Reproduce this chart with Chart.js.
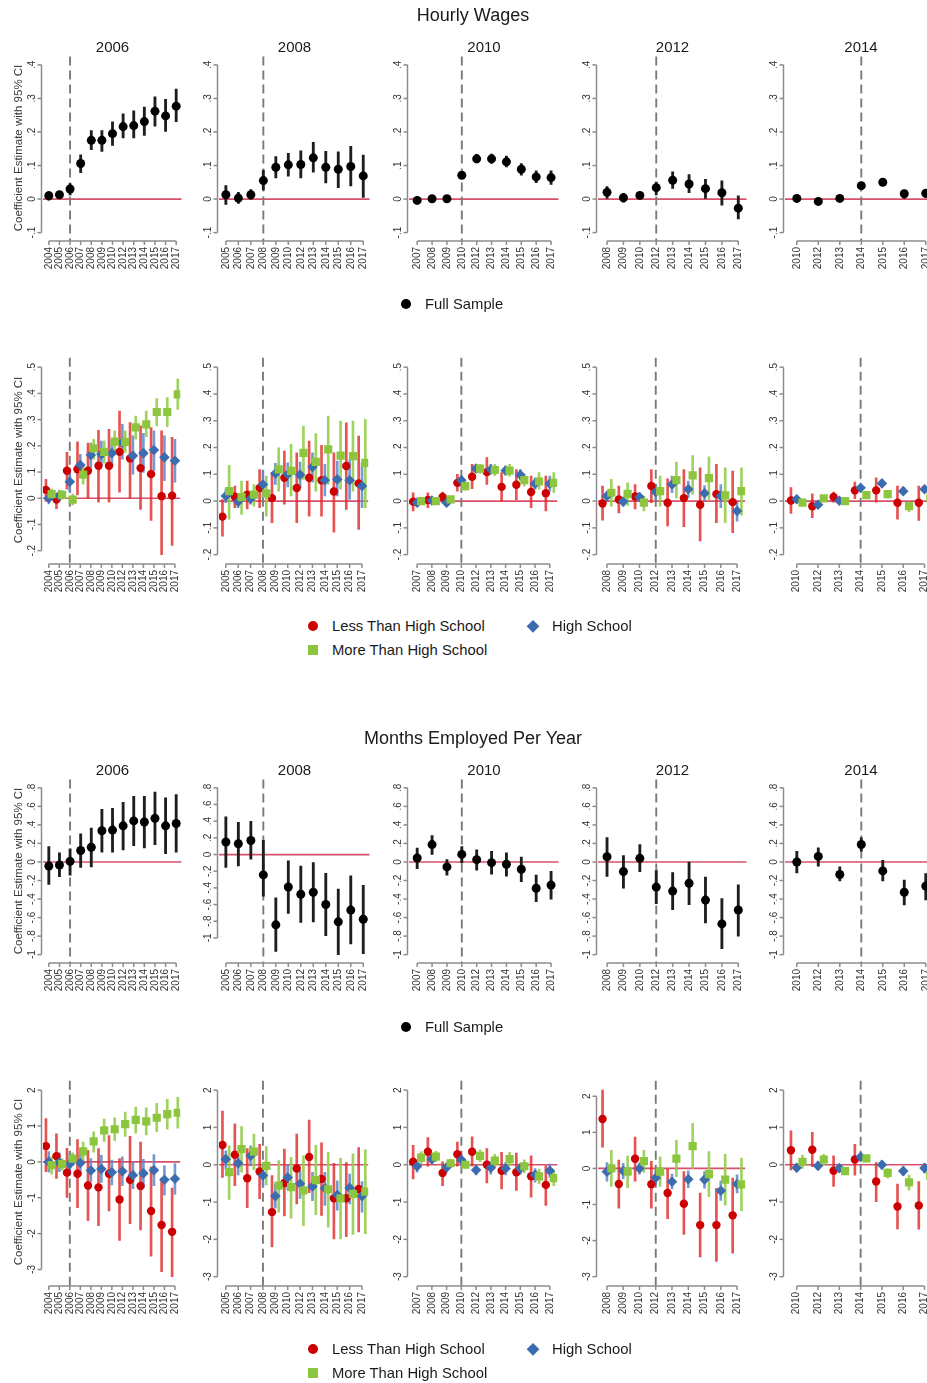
<!DOCTYPE html>
<html lang="en">
<head>
<meta charset="UTF-8">
<title>Hourly Wages / Months Employed Per Year</title>
<script src="https://cdn.jsdelivr.net/npm/chart.js"></script>
<style>
  body { margin:0; background:#fff; width:927px; height:1383px; overflow:hidden; position:relative;
         font-family:"Liberation Sans", Arial, Helvetica, sans-serif; color:#1a1a1a; }
  canvas.panel { position:absolute; }
  .txt { position:absolute; white-space:nowrap; transform:translate(-50%,-50%); }
  .sect { font-size:18px; }
  .ptitle { font-size:15px; }
  .ytitle { font-size:11.5px; color:#3a3a3a; transform:translate(-50%,-50%) rotate(-90deg); }
  .leg { position:absolute; font-size:14.8px; white-space:nowrap; transform:translateY(-50%); }
  .mk { position:absolute; transform:translate(-50%,-50%); }
</style>
</head>
<body>
<script>
// x categories for each cohort panel
const yrs06 = ['2004','2005','2006','2007','2008','2009','2010','2012','2013','2014','2015','2016','2017'];
const yrs08 = ['2005','2006','2007','2008','2009','2010','2012','2013','2014','2015','2016','2017'];
const yrs10 = ['2007','2008','2009','2010','2012','2013','2014','2015','2016','2017'];
const yrs12 = ['2008','2009','2010','2012','2013','2014','2015','2016','2017'];
const yrs14 = ['2010','2012','2013','2014','2015','2016','2017'];
const cohorts = ['2006','2008','2010','2012','2014'];

// y ticks
const hwTopTicks = [-0.1, 0, 0.1, 0.2, 0.3, 0.4];
const hwTopTickLabels = ['-.1','0','.1','.2','.3','.4'];
const hwSubTicks = [-0.2, -0.1, 0, 0.1, 0.2, 0.3, 0.4, 0.5];
const hwSubTickLabels = ['-.2','-.1','0','.1','.2','.3','.4','.5'];
const meTopTicks = [-1, -0.8, -0.6, -0.4, -0.2, 0, 0.2, 0.4, 0.6, 0.8];
const meTopTickLabels = ['-1','-.8','-.6','-.4','-.2','0','.2','.4','.6','.8'];
const meSubTicks = [-3, -2, -1, 0, 1, 2];
const meSubTickLabels = ['-3','-2','-1','0','1','2'];

// values as [estimate, ci low, ci high]
// Hourly wages, full sample
const hwFull06 = [[.010,-.003,.022],[.013,.007,.020],[.030,.012,.046],[.106,.079,.132],[.175,.147,.204],[.175,.142,.204],[.195,.160,.230],[.216,.182,.254],[.219,.182,.263],[.231,.190,.274],[.262,.217,.305],[.248,.202,.297],[.277,.231,.328]];
const hwFull08 = [[.013,-.016,.040],[.003,-.013,.020],[.013,-.001,.028],[.055,.027,.086],[.095,.063,.127],[.102,.068,.136],[.103,.063,.144],[.123,.080,.169],[.095,.048,.142],[.089,.034,.141],[.097,.039,.157],[.069,.005,.131]];
const hwFull10 = [[-.004,-.010,.002],[.001,-.004,.006],[.001,-.004,.006],[.071,.063,.080],[.120,.108,.133],[.120,.106,.134],[.111,.096,.128],[.089,.071,.106],[.066,.049,.084],[.064,.044,.084]];
const hwFull12 = [[.020,.002,.037],[.004,-.009,.017],[.011,.002,.019],[.034,.012,.051],[.056,.032,.081],[.045,.019,.073],[.031,.002,.059],[.019,-.018,.054],[-.027,-.059,.010]];
const hwFull14 = [[.002,-.004,.008],[-.007,-.012,-.002],[.002,-.004,.008],[.040,.032,.048],[.050,.043,.058],[.016,.002,.027],[.017,.005,.028]];

// Hourly wages by education
const hwLess06 = [[.032,-.012,.072],[-.005,-.040,.020],[.105,.035,.175],[.111,.013,.215],[.105,.000,.210],[.124,-.015,.259],[.124,-.015,.263],[.177,.023,.333],[.152,.000,.289],[.115,-.043,.276],[.092,-.085,.270],[.008,-.215,.257],[.010,-.180,.232]];
const hwHs06 = [[.000,-.022,.022],[.010,-.009,.029],[.063,.023,.101],[.127,.084,.168],[.165,.118,.210],[.168,.124,.218],[.172,.124,.219],[.213,.149,.282],[.162,.092,.238],[.172,.099,.248],[.184,.105,.257],[.156,.067,.238],[.143,.061,.225]];
const hwMore06 = [[.016,-.005,.035],[.013,-.003,.029],[-.005,-.025,.016],[.090,.054,.124],[.190,.149,.225],[.177,.134,.219],[.216,.175,.257],[.215,.175,.257],[.270,.225,.313],[.282,.235,.333],[.329,.276,.380],[.329,.273,.384],[.396,.339,.456]];
const hwLess08 = [[-.058,-.131,.006],[.016,-.025,.056],[.024,-.029,.075],[.049,-.025,.118],[.011,-.081,.106],[.087,-.012,.187],[.049,-.081,.180],[.087,-.056,.224],[.078,-.056,.208],[.036,-.116,.180],[.131,-.031,.292],[.066,-.106,.243]];
const hwHs08 = [[.019,-.006,.044],[-.002,-.025,.019],[.009,-.012,.031],[.062,.012,.112],[.103,.062,.141],[.100,.053,.143],[.098,.050,.146],[.127,.071,.180],[.078,.019,.137],[.081,.019,.149],[.078,.006,.153],[.056,-.025,.143]];
const hwMore08 = [[.037,-.068,.133],[.015,-.050,.075],[.024,-.019,.062],[.029,-.056,.093],[.118,.037,.199],[.113,.019,.212],[.180,.081,.280],[.146,.037,.252],[.193,.062,.317],[.170,.044,.299],[.168,.037,.299],[.143,-.025,.305]];
const hwLess10 = [[-.002,-.037,.031],[.004,-.025,.031],[.015,-.006,.034],[.068,.037,.100],[.091,.046,.137],[.108,.062,.162],[.053,.000,.106],[.061,.004,.118],[.034,-.025,.093],[.029,-.037,.093]];
const hwHs10 = [[-.006,-.019,.006],[.002,-.006,.012],[-.006,-.021,.009],[.078,.062,.093],[.121,.106,.137],[.118,.100,.137],[.114,.097,.131],[.098,.078,.118],[.065,.044,.087],[.065,.037,.093]];
const hwMore10 = [[.000,-.012,.012],[.000,-.009,.009],[.006,-.006,.016],[.056,.041,.071],[.121,.103,.137],[.116,.095,.137],[.114,.093,.137],[.078,.056,.100],[.073,.044,.106],[.068,.031,.106]];
const hwLess12 = [[-.009,-.071,.056],[.006,-.044,.056],[.017,-.029,.062],[.056,-.006,.118],[-.006,-.093,.083],[.011,-.096,.118],[-.014,-.149,.124],[.026,-.081,.137],[-.004,-.118,.112]];
const hwHs12 = [[.019,.000,.037],[-.002,-.019,.012],[.015,.000,.031],[.034,.006,.062],[.062,.031,.093],[.044,.012,.075],[.029,.000,.058],[.019,-.025,.062],[-.037,-.075,.000]];
const hwMore12 = [[.031,-.019,.081],[.027,-.016,.068],[-.006,-.037,.019],[.037,-.019,.093],[.078,.012,.146],[.096,.025,.170],[.086,.006,.165],[.021,-.081,.124],[.037,-.053,.124]];
const hwLess14 = [[.002,-.046,.050],[-.019,-.062,.027],[.015,-.004,.034],[.040,.009,.071],[.040,-.004,.087],[-.006,-.068,.056],[-.006,-.072,.056]];
const hwHs14 = [[.007,-.003,.017],[-.014,-.024,-.004],[.001,-.008,.010],[.050,.040,.060],[.066,.056,.076],[.037,.026,.049],[.044,.032,.056]];
const hwMore14 = [[-.006,-.019,.006],[.010,-.001,.020],[.000,-.006,.006],[.022,.014,.030],[.026,.012,.040],[-.019,-.040,-.004],[.010,-.005,.025]];

// Months employed, full sample
const meFull06 = [[-.043,-.241,.167],[-.032,-.159,.100],[.007,-.142,.142],[.124,-.060,.305],[.159,-.053,.365],[.337,.106,.567],[.344,.106,.578],[.390,.131,.645],[.443,.177,.709],[.432,.152,.709],[.471,.188,.755],[.390,.089,.691],[.415,.106,.726]];
const meFull08 = [[.150,-.154,.453],[.130,-.138,.386],[.169,-.055,.398],[-.244,-.500,.169],[-.843,-1.162,-.520],[-.390,-.705,-.075],[-.477,-.815,-.138],[-.453,-.807,-.098],[-.599,-.973,-.224],[-.807,-1.201,-.413],[-.666,-1.071,-.256],[-.776,-1.189,-.370]];
const meFull10 = [[.043,-.071,.149],[.188,.082,.284],[-.053,-.142,.025],[.082,-.011,.167],[.025,-.089,.132],[-.007,-.132,.114],[-.025,-.153,.100],[-.078,-.213,.053],[-.284,-.427,-.142],[-.249,-.402,-.100]];
const meFull12 = [[.057,-.157,.264],[-.104,-.282,.068],[.039,-.104,.189],[-.271,-.450,-.093],[-.314,-.514,-.114],[-.229,-.461,.000],[-.411,-.657,-.164],[-.668,-.936,-.396],[-.518,-.800,-.246]];
const meFull14 = [[.000,-.117,.114],[.060,-.046,.153],[-.135,-.203,-.053],[.189,.117,.260],[-.096,-.203,.018],[-.327,-.463,-.196],[-.260,-.409,-.125]];

// Months employed by education
const meLess06 = [[.44,-.27,1.21],[.16,-.46,.78],[-.30,-.99,.38],[-.33,-1.28,.62],[-.66,-1.64,.32],[-.71,-1.78,.37],[-.33,-1.37,.73],[-1.05,-2.19,.09],[-.50,-1.72,.71],[-.67,-1.90,.55],[-1.37,-2.63,-.14],[-1.76,-3.06,-.46],[-1.95,-3.20,-.73]];
const meHs06 = [[.00,-.29,.29],[-.02,-.27,.25],[-.06,-.37,.23],[-.03,-.37,.32],[-.24,-.55,.09],[-.20,-.57,.18],[-.29,-.64,.05],[-.26,-.66,.14],[-.37,-.75,.00],[-.32,-.71,.07],[-.23,-.66,.20],[-.50,-.93,-.11],[-.47,-.91,-.05]];
const meMore06 = [[-.09,-.34,.14],[-.06,-.23,.09],[.09,-.07,.25],[.29,.02,.55],[.57,.27,.84],[.88,.57,1.19],[.91,.59,1.23],[1.05,.71,1.39],[1.17,.80,1.53],[1.13,.75,1.51],[1.23,.84,1.63],[1.33,.91,1.74],[1.37,.94,1.80]];
const meLess08 = [[.53,-.34,1.44],[.27,-.56,1.10],[-.36,-1.15,.43],[-.18,-.91,.55],[-1.27,-2.20,-.29],[-.49,-1.37,.42],[-.10,-1.05,.82],[.21,-.75,1.20],[-.38,-1.36,.59],[-.90,-1.99,.04],[-.90,-1.93,.06],[-.65,-1.80,.46]];
const meHs08 = [[.15,-.12,.37],[.04,-.27,.28],[.24,-.03,.51],[-.29,-.60,.02],[-.84,-1.16,-.51],[-.34,-.66,-.01],[-.51,-.90,-.16],[-.58,-.96,-.20],[-.63,-1.09,-.20],[-.81,-1.22,-.43],[-.62,-1.05,-.25],[-.84,-1.27,-.45]];
const meMore08 = [[-.20,-.93,.51],[.42,-.20,1.02],[.35,-.13,.82],[-.03,-.54,.49],[-.56,-1.27,.11],[-.60,-1.43,.20],[-.69,-1.63,.24],[-.41,-1.34,.52],[-.66,-1.67,.33],[-.90,-1.99,.17],[-.78,-1.87,.29],[-.72,-1.85,.40]];
const meLess10 = [[.08,-.38,.52],[.35,-.04,.73],[-.22,-.56,.08],[.28,-.04,.61],[.35,-.04,.75],[.00,-.49,.43],[-.16,-.65,.33],[-.20,-.69,.31],[-.31,-.87,.24],[-.54,-1.09,-.03]];
const meHs10 = [[-.04,-.20,.08],[.15,.02,.28],[-.07,-.20,.04],[.13,-.01,.26],[-.14,-.27,-.01],[-.08,-.25,.08],[-.10,-.27,.06],[-.10,-.26,.04],[-.27,-.47,-.10],[-.16,-.34,.02]];
const meMore10 = [[.19,.02,.35],[.22,.08,.36],[.04,-.07,.15],[.00,-.09,.08],[.24,.08,.40],[.11,-.07,.28],[.15,-.03,.33],[-.04,-.22,.13],[-.31,-.51,-.12],[-.36,-.56,-.16]];
const meLess12 = [[1.37,.59,2.17],[-.43,-1.10,.23],[.27,-.35,.87],[-.44,-1.10,.20],[-.68,-1.39,-.02],[-.98,-1.83,-.09],[-1.57,-2.45,-.68],[-1.57,-2.58,-.55],[-1.30,-2.35,-.27]];
const meHs12 = [[-.09,-.35,.16],[-.07,-.29,.14],[.00,-.16,.16],[-.26,-.46,-.05],[-.37,-.57,-.16],[-.30,-.53,-.07],[-.31,-.55,-.09],[-.62,-.89,-.35],[-.43,-.68,-.18]];
const meMore12 = [[.00,-.50,.50],[-.09,-.53,.34],[.20,-.11,.50],[-.09,-.50,.32],[.27,-.23,.78],[.62,.00,1.25],[-.16,-.78,.47],[-.31,-1.02,.39],[-.44,-1.17,.29]];
const meLess14 = [[.39,-.14,.91],[.40,-.05,.87],[-.16,-.58,.24],[.14,-.28,.55],[-.45,-.99,.06],[-1.12,-1.72,-.52],[-1.09,-1.73,-.45]];
const meHs14 = [[-.08,-.19,.02],[-.03,-.13,.08],[-.09,-.18,-.01],[.21,.11,.31],[.00,-.12,.11],[-.17,-.29,-.05],[-.09,-.22,.04]];
const meMore14 = [[.08,-.10,.26],[.14,-.01,.28],[-.17,-.25,-.10],[.17,.08,.26],[-.22,-.36,-.10],[-.47,-.68,-.28],[-.30,-.50,-.10]];

// ---- layout / styles ----
const years = [yrs06, yrs08, yrs10, yrs12, yrs14];
const cols = [[43, 182], [219, 370], [409, 559], [598, 747], [785, 937]];   // plot region left/right
const FULL = { color:'#000000', ci:'#1e1e1e', style:'circle', r:4.5, dx:0, w:2.2 };
const LESS = { color:'#cc0000', ci:'rgba(222,40,40,0.8)', style:'circle', r:4.2, dx:-0.27, w:2 };
const HS   = { color:'#3b6cb0', ci:'rgba(95,135,200,0.85)', style:'rectRot', r:5.3, dx:0, w:2 };
const MORE = { color:'#8cc63f', ci:'rgba(150,205,80,0.9)', style:'rect', r:5.8, dx:0.27, w:2 };

const stataAxes = {
  id: 'stataAxes',
  beforeDatasetsDraw(chart) {
    const { ctx, chartArea: a, scales: { x, y } } = chart;
    const o = chart.options.plugins.stataAxes;
    ctx.save();
    // zero line
    const y0 = y.getPixelForValue(0);
    ctx.strokeStyle = '#d9506a'; ctx.lineWidth = 1.7;
    ctx.beginPath(); ctx.moveTo(a.left, y0); ctx.lineTo(a.right, y0); ctx.stroke();
    // cohort year dashed line
    const xc = x.getPixelForValue(o.cohort);
    ctx.strokeStyle = '#7a7a7a'; ctx.lineWidth = 1.9; ctx.setLineDash([9, 5]);
    ctx.beginPath(); ctx.moveTo(xc, a.top); ctx.lineTo(xc, a.bottom); ctx.stroke();
    ctx.setLineDash([]);
    // y axis
    const ax = a.left - 1.5;
    const yt = o.ticks.map(t => y.getPixelForValue(t));
    ctx.strokeStyle = '#8c8c8c'; ctx.lineWidth = 1.5;
    ctx.beginPath(); ctx.moveTo(ax, Math.min(...yt)); ctx.lineTo(ax, Math.max(...yt)); ctx.stroke();
    ctx.fillStyle = '#333'; ctx.font = '10px "Liberation Sans", Arial, sans-serif';
    yt.forEach((py, i) => {
      ctx.beginPath(); ctx.moveTo(ax, py); ctx.lineTo(ax - 4, py); ctx.stroke();
      ctx.save(); ctx.translate(ax - 9, py); ctx.rotate(-Math.PI / 2);
      ctx.textAlign = 'center'; ctx.textBaseline = 'middle';
      ctx.fillText(o.tickLabels[i], 0, 0); ctx.restore();
    });
    // x axis
    const n = o.labels.length;
    const xb = a.bottom;
    ctx.beginPath(); ctx.moveTo(x.getPixelForValue(0), xb); ctx.lineTo(x.getPixelForValue(n - 1), xb); ctx.stroke();
    o.labels.forEach((lab, i) => {
      const px = x.getPixelForValue(i);
      ctx.beginPath(); ctx.moveTo(px, xb); ctx.lineTo(px, xb + 4); ctx.stroke();
      ctx.save(); ctx.translate(px, xb + 6); ctx.rotate(-Math.PI / 2);
      ctx.textAlign = 'right'; ctx.textBaseline = 'middle';
      ctx.fillText(lab, 0, 0); ctx.restore();
    });
    ctx.restore();
  }
};

function makePanel(ci, top, bottom, series, ticks, tickLabels) {
  const [l, r] = cols[ci];
  const labels = years[ci];
  const padL = 44, padR = 4, padT = 4, padB = 36;
  const cv = document.createElement('canvas');
  cv.className = 'panel';
  cv.width = r - l + padL + padR;
  cv.height = bottom - top + padT + padB;
  cv.style.left = (l - padL) + 'px';
  cv.style.top = (top - padT) + 'px';
  document.body.appendChild(cv);

  let lo = ticks[0], hi = ticks[ticks.length - 1];
  series.forEach(([, vals]) => vals.forEach(d => { lo = Math.min(lo, d[1]); hi = Math.max(hi, d[2]); }));
  const pad = 0.05 * (hi - lo);

  const ciSets = [], ptSets = [];
  series.forEach(([s, vals], k) => {
    ciSets.push({ type:'bar', data: vals.map((d, i) => ({ x: i + s.dx, y: [d[1], d[2]] })),
      backgroundColor: s.ci, borderWidth: 0, barThickness: s.w, grouped: false, order: 10 - k });
    ptSets.push({ type:'scatter', data: vals.map((d, i) => ({ x: i + s.dx, y: d[0] })),
      pointStyle: s.style, pointRadius: s.r, pointBackgroundColor: s.color, pointBorderColor: s.color,
      pointBorderWidth: 0, showLine: false, order: 5 - k });
  });

  new Chart(cv, {
    type: 'scatter',
    data: { datasets: [...ciSets, ...ptSets] },
    options: {
      responsive: false, animation: false, devicePixelRatio: 1,
      layout: { padding: { left: padL, right: padR, top: padT, bottom: padB } },
      scales: {
        x: { type:'linear', display:false, min: -0.55, max: labels.length - 0.5, offset:false },
        y: { type:'linear', display:false, min: lo - pad, max: hi + pad }
      },
      plugins: {
        legend: { display:false }, tooltip: { enabled:false },
        stataAxes: { cohort: labels.indexOf(cohorts[ci]), ticks, tickLabels, labels }
      }
    },
    plugins: [stataAxes]
  });
}

function addText(txt, cx, cy, cls) {
  const d = document.createElement('div');
  d.className = 'txt ' + cls;
  d.textContent = txt;
  d.style.left = cx + 'px'; d.style.top = cy + 'px';
  document.body.appendChild(d);
}

function addLegendItem(shape, color, mx, tx, cy, txt) {
  const m = document.createElement('div');
  m.className = 'mk';
  m.style.left = mx + 'px'; m.style.top = cy + 'px'; m.style.background = color;
  if (shape === 'circle') { m.style.width = '10px'; m.style.height = '10px'; m.style.borderRadius = '50%'; }
  if (shape === 'diamond') { m.style.width = '8.5px'; m.style.height = '8.5px'; m.style.transform = 'translate(-50%,-50%) rotate(45deg)'; }
  if (shape === 'square') { m.style.width = '10px'; m.style.height = '10px'; }
  document.body.appendChild(m);
  const t = document.createElement('div');
  t.className = 'leg'; t.textContent = txt;
  t.style.left = tx + 'px'; t.style.top = cy + 'px';
  document.body.appendChild(t);
}

const hwFull = [hwFull06, hwFull08, hwFull10, hwFull12, hwFull14];
const hwLess = [hwLess06, hwLess08, hwLess10, hwLess12, hwLess14];
const hwHs = [hwHs06, hwHs08, hwHs10, hwHs12, hwHs14];
const hwMore = [hwMore06, hwMore08, hwMore10, hwMore12, hwMore14];
const meFull = [meFull06, meFull08, meFull10, meFull12, meFull14];
const meLess = [meLess06, meLess08, meLess10, meLess12, meLess14];
const meHs = [meHs06, meHs08, meHs10, meHs12, meHs14];
const meMore = [meMore06, meMore08, meMore10, meMore12, meMore14];

cohorts.forEach((c, i) => {
  makePanel(i, 56, 241, [[FULL, hwFull[i]]], hwTopTicks, hwTopTickLabels);
  makePanel(i, 356, 564, [[LESS, hwLess[i]], [HS, hwHs[i]], [MORE, hwMore[i]]], hwSubTicks, hwSubTickLabels);
  makePanel(i, 779, 963, [[FULL, meFull[i]]], meTopTicks, meTopTickLabels);
  makePanel(i, 1079, 1286, [[LESS, meLess[i]], [HS, meHs[i]], [MORE, meMore[i]]], meSubTicks, meSubTickLabels);
  const cx = (cols[i][0] + cols[i][1]) / 2;
  addText(c, cx, 46, 'ptitle');
  addText(c, cx, 769, 'ptitle');
});

addText('Hourly Wages', 473, 15, 'sect');
addText('Months Employed Per Year', 473, 738, 'sect');
[148, 460, 871, 1182].forEach(cy => addText('Coefficient Estimate with 95% CI', 18, cy, 'ytitle'));

[304, 1027].forEach(cy => addLegendItem('circle', '#000', 406, 425, cy, 'Full Sample'));
[626, 1349].forEach(cy => {
  addLegendItem('circle', LESS.color, 313, 332, cy, 'Less Than High School');
  addLegendItem('diamond', HS.color, 533, 552, cy, 'High School');
  addLegendItem('square', MORE.color, 313, 332, cy + 24, 'More Than High School');
});
</script>
</body>
</html>
